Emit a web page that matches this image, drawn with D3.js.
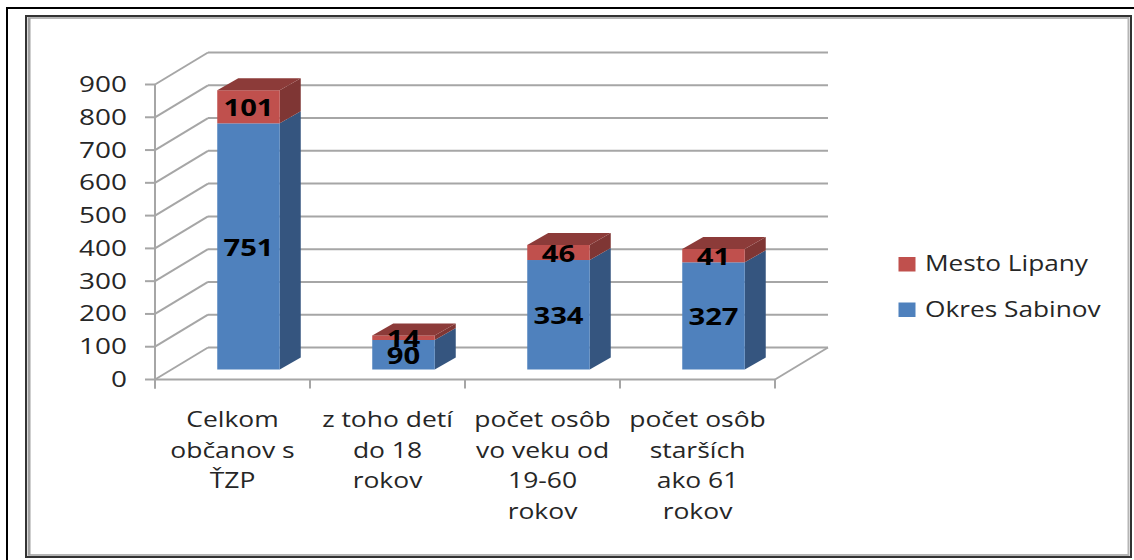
<!DOCTYPE html>
<meta charset="utf-8">
<style>
    body { margin: 0; background: #fff; }
    svg { display: block; }
    text { font-family: "Open Sans", sans-serif; fill: #262626; }
    .grid { stroke: #a6a6a6; stroke-width: 2px; fill: none; }
    .value { font-weight: bold; fill: #000; }
</style>
<body>
    <svg width="1134" height="560"></svg>
</body>
<script src="https://d3js.org/d3.v7.min.js"></script>
<script>
    var categories = [
        ["Celkom", "občanov s", "ŤZP"],
        ["z toho detí", "do 18", "rokov"],
        ["počet osôb", "vo veku od", "19-60", "rokov"],
        ["počet osôb", "starších", "ako 61", "rokov"]
    ];
    var okresSabinov = [751, 90, 334, 327];
    var mestoLipany = [101, 14, 46, 41];
    var yTicks = [0, 100, 200, 300, 400, 500, 600, 700, 800, 900];
    var seriesNames = ["Okres Sabinov", "Mesto Lipany"];

    var svg = d3.select("svg");

    // picture frames around the pasted chart
    svg.append("line").attr("x1", 7).attr("y1", 8).attr("x2", 7).attr("y2", 560).attr("stroke", "#000").attr("stroke-width", 2);
    svg.append("line").attr("x1", 6).attr("y1", 8).attr("x2", 1134).attr("y2", 8).attr("stroke", "#000").attr("stroke-width", 2);
    svg.append("rect").attr("x", 26).attr("y", 16).attr("width", 1105).attr("height", 541)
        .attr("fill", "none").attr("stroke", "#333").attr("stroke-width", 2);
    svg.append("rect").attr("x", 28.5).attr("y", 18).attr("width", 1100).attr("height", 537)
        .attr("fill", "#fff").attr("stroke", "#b5b5b5").attr("stroke-width", 2);
    svg.append("rect").attr("x", 28).attr("y", 18).attr("width", 2.5).attr("height", 537).attr("fill", "#a0a0a0");

    // fake 3d: wall depth and bar depth
    var wallDx = 53, wallDy = -32;
    var barDx = 21, barDy = -12;

    var y = d3.scaleLinear().domain([0, 900]).range([379.5, 84.5]);
    var x = d3.scaleBand().domain(d3.range(categories.length)).range([155, 775]).paddingInner(0).paddingOuter(0);
    var barWidth = 62.5;

    var grid = svg.append("g");

    // back wall and side wall lines
    yTicks.forEach(function (t) {
        grid.append("line").attr("class", "grid")
            .attr("x1", 155).attr("y1", y(t)).attr("x2", 155 + wallDx).attr("y2", y(t) + wallDy);
        grid.append("line").attr("class", "grid")
            .attr("x1", 155 + wallDx).attr("y1", y(t) + wallDy).attr("x2", 775 + wallDx).attr("y2", y(t) + wallDy);
        grid.append("line").attr("class", "grid")
            .attr("x1", 145).attr("y1", y(t)).attr("x2", 155).attr("y2", y(t));
    });

    // floor + axis lines
    grid.append("line").attr("class", "grid").attr("x1", 155).attr("y1", y(0)).attr("x2", 775).attr("y2", y(0));
    grid.append("line").attr("class", "grid").attr("x1", 775).attr("y1", y(0)).attr("x2", 775 + wallDx).attr("y2", y(0) + wallDy);
    grid.append("line").attr("class", "grid").attr("x1", 155).attr("y1", y(900)).attr("x2", 155).attr("y2", y(0) + 9);
    d3.range(categories.length + 1).forEach(function (i) {
        var tx = 155 + i * x.bandwidth();
        grid.append("line").attr("class", "grid").attr("x1", tx).attr("y1", y(0)).attr("x2", tx).attr("y2", y(0) + 9);
    });

    // y tick labels
    svg.append("g").selectAll("text")
        .data(yTicks)
        .enter().append("text")
        .attr("transform", function (d) { return "translate(127," + (y(d) + 7.5) + ") scale(1.33,1)"; })
        .attr("text-anchor", "end")
        .style("font-size", "21px")
        .text(function (d) { return d; });

    // stacked bars
    var stackData = categories.map(function (c, i) {
        return { "Okres Sabinov": okresSabinov[i], "Mesto Lipany": mestoLipany[i] };
    });
    var stacked = d3.stack().keys(seriesNames)(stackData);

    var colors = {
        "Okres Sabinov": { front: "#4f81bd", side: "#35557f" },
        "Mesto Lipany": { front: "#c0504d", side: "#7f3634", top: "#8c3b39" }
    };

    // the bar stands in the middle of the floor depth
    var floorShiftX = (wallDx - barDx) / 2, floorShiftY = (wallDy - barDy) / 2;

    stacked.forEach(function (layer) {
        var c = colors[layer.key];
        var g = svg.append("g");
        layer.forEach(function (d, i) {
            var x0 = x(i) + x.bandwidth() / 2 - barWidth / 2 + floorShiftX;
            var x1 = x0 + barWidth;
            var yb = y(d[0]) + floorShiftY;
            var yt = y(d[1]) + floorShiftY;
            g.append("polygon").attr("fill", c.side)
                .attr("points", [[x1, yb], [x1 + barDx, yb + barDy], [x1 + barDx, yt + barDy], [x1, yt]].join(" "));
            g.append("rect").attr("fill", c.front)
                .attr("x", x0).attr("y", yt).attr("width", barWidth).attr("height", yb - yt);
            if (c.top) {
                g.append("polygon").attr("fill", c.top)
                    .attr("points", [[x0, yt], [x0 + barDx, yt + barDy], [x1 + barDx, yt + barDy], [x1, yt]].join(" "));
            }
        });
    });

    // value labels go on top of all the bars
    stacked.forEach(function (layer) {
        layer.forEach(function (d, i) {
            var cx = x(i) + x.bandwidth() / 2 + floorShiftX;
            var cy = (y(d[0]) + y(d[1])) / 2 + floorShiftY;
            svg.append("text").attr("class", "value")
                .attr("transform", "translate(" + cx + "," + (cy + 9.5) + ") scale(1.27,1)")
                .attr("text-anchor", "middle")
                .style("font-size", "23px")
                .text(d[1] - d[0]);
        });
    });

    // category labels
    categories.forEach(function (lines, i) {
        lines.forEach(function (line, j) {
            svg.append("text")
                .attr("transform", "translate(" + (x(i) + x.bandwidth() / 2) + "," + (427 + j * 30.5) + ") scale(1.26,1)")
                .attr("text-anchor", "middle")
                .style("font-size", "21px")
                .text(line);
        });
    });

    // legend, red on top
    var legendNames = seriesNames.slice().reverse();
    legendNames.forEach(function (name, i) {
        var ly = 257 + i * 45.5;
        svg.append("rect").attr("x", 898.5).attr("y", ly).attr("width", 17).attr("height", 14.5)
            .attr("fill", colors[name].front);
        svg.append("text")
            .attr("transform", "translate(925," + (ly + 14) + ") scale(1.25,1)")
            .style("font-size", "21px")
            .text(name);
    });
</script>
